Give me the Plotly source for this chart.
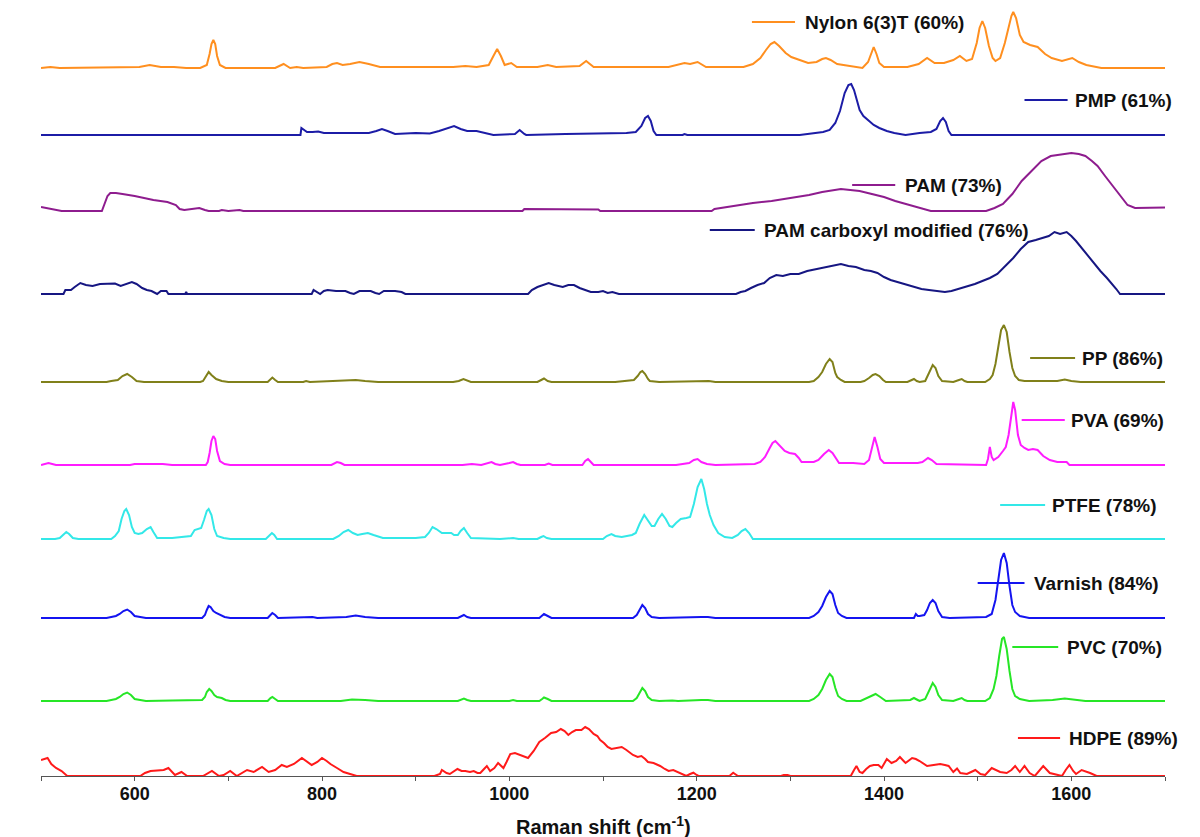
import plotly.graph_objects as go

# ---------------- data: (Raman shift cm-1, relative intensity) ----------------
NYLON = [(500,0),(510,1),(520,0),(579,1),(591,1),(605,1),(616,3),(628,1),(642,1),(655,0),(670,0),(677,3),(680,14),(682,24),(684,28),(686,24),(688,12),(691,3),(697,0),(750,0),(759,4),(766,0),(773,1),(780,0),(805,1),(811,4),(816,5),(822,3),(830,4),(840,6),(850,4),(862,1),(940,1),(953,2),(965,1),(978,3),(983,12),(987,19),(991,12),(995,3),(1002,5),(1008,1),(1030,1),(1041,3),(1050,1),(1075,2),(1082,7),(1090,1),(1170,1),(1182,4),(1187,5),(1193,4),(1201,6),(1210,1),(1250,1),(1260,4),(1268,10),(1274,18),(1279,24),(1283,26),(1288,22),(1295,15),(1301,11),(1310,8),(1319,5),(1328,6),(1334,9),(1338,10),(1343,8),(1350,4),(1358,3),(1368,1),(1377,0),(1383,6),(1386,14),(1389,21),(1392,14),(1395,5),(1400,1),(1425,1),(1437,4),(1446,10),(1454,5),(1464,5),(1474,8),(1481,12),(1488,7),(1494,9),(1499,25),(1502,40),(1505,47),(1508,40),(1512,22),(1516,10),(1519,7),(1524,10),(1529,25),(1533,42),(1536,52),(1538,56),(1541,50),(1545,33),(1549,26),(1556,23),(1564,21),(1572,14),(1579,10),(1590,7),(1601,10),(1608,6),(1616,3),(1632,0),(1700,0)]

PMP = [(500,0),(777,0),(778,7),(781,5),(784,3),(790,3),(796,3.5),(802,2),(815,2),(835,1.5),(850,2),(858,4),(864,6),(870,4),(878,1),(900,2),(915,1.5),(925,4),(934,7),(941,9),(948,6),(955,4),(965,4),(975,2),(983,0),(1006,1),(1011,5),(1016,1),(1018,0),(1060,1),(1100,1.5),(1125,2),(1135,3),(1141,9),(1145,17),(1148,19),(1151,14),(1154,4),(1157,0),(1185,0),(1187,1),(1190,0),(1310,0),(1325,2),(1335,3),(1342,5),(1348,12),(1353,24),(1358,42),(1362,50),(1365,51),(1368,45),(1371,35),(1374,25),(1378,19),(1383,15),(1389,10),(1395,7),(1403,4),(1411,2),(1423,0),(1438,2),(1450,3),(1456,6),(1460,14),(1463,17),(1466,13),(1469,4),(1472,0),(1700,0)]

PAM = [(500,4),(506,3),(512,2),(518,1),(522,0),(565,0),(568,8),(571,15),(574,18),(580,18),(587,17),(600,15),(620,11),(635,9),(644,6),(648,2),(653,1),(660,2),(669,3),(675,1),(679,0),(690,0),(693,1),(700,0),(708,1),(712,1),(716,0),(1014,0),(1016,2),(1050,1.5),(1095,1.5),(1097,0),(1216,0),(1219,2),(1240,5),(1260,8),(1280,10),(1301,13),(1320,16),(1334,19),(1345,21),(1354,22),(1364,21),(1374,20),(1387,17),(1400,14),(1412,10),(1423,7),(1437,3),(1450,0),(1509,0),(1518,3),(1527,7),(1537,17),(1547,30),(1557,40),(1568,50),(1578,55),(1590,57),(1600,58),(1608,57),(1615,55),(1622,50),(1628,45),(1636,35),(1644,25),(1652,15),(1660,6),(1668,3),(1677,3),(1690,3),(1700,3.5)]

PAM_CARBOXYL = [(500,0),(524,0),(526,4),(532,4),(536,7),(542,11),(548,9),(555,8),(563,10),(571,10),(579,10.5),(585,8),(591,10),(597,12),(602,10),(608,6),(613,4),(618,3),(624,0),(628,3),(634,3),(636,0),(654,0),(655,2),(656,0),(789,0),(791,4),(795,2),(798,0),(802,3),(806,4),(815,3),(825,3),(830,1),(834,0),(840,3),(852,3),(857,1),(861,0),(866,3),(878,3),(885,2),(889,0),(1020,0),(1024,4),(1030,7),(1036,9),(1042,11),(1048,9),(1057,7),(1063,9),(1069,9),(1075,6),(1081,4),(1087,2),(1095,2),(1100,3),(1105,1),(1110,2),(1117,0),(1242,0),(1247,2),(1252,3),(1258,6),(1265,9),(1272,11),(1278,16),(1285,19),(1292,18),(1300,20),(1309,20),(1318,23),(1328,25),(1338,27),(1346,28),(1354,30),(1362,28),(1370,27),(1379,24),(1386,23),(1393,21),(1400,17),(1407,14),(1415,12),(1425,9),(1432,7),(1440,5),(1448,4),(1456,3),(1465,2),(1472,3),(1480,5),(1490,8),(1497,10),(1505,13),(1513,16),(1521,20),(1530,28),(1538,36),(1546,45),(1554,52),(1562,54),(1570,56),(1576,58),(1582,62),(1588,60),(1595,62),(1600,58),(1605,53),(1610,47),(1615,41),(1622,33),(1631,23),(1638,16),(1644,10),(1648,5),(1652,0),(1700,0)]

PP = [(500,0),(570,0),(575,1),(582,2),(587,6),(592,8),(597,5),(602,1),(610,0),(670,0),(673,1),(676,6),(679,10),(682,7),(687,3),(693,1),(700,0),(742,0),(745,3),(747,4.5),(750,2),(753,0),(780,0),(783,1),(787,0),(825,1),(836,2),(846,1),(860,0),(940,0),(946,1),(951,3),(956,1),(959,0),(1000,0),(1030,0),(1034,2),(1037,3.5),(1041,1),(1045,0),(1113,0),(1125,1),(1133,2),(1137,6),(1140,10),(1142,11),(1145,8),(1148,3),(1150,1),(1160,0),(1208,1),(1213,1),(1220,0),(1320,0),(1325,1),(1330,5),(1334,10),(1338,18),(1342,23),(1345,20),(1348,9),(1350,5),(1354,2),(1358,0),(1375,0),(1379,1),(1384,4),(1388,7),(1391,8),(1395,6),(1399,2),(1402,0),(1425,0),(1430,2),(1432,3),(1435,1),(1438,0),(1444,1),(1447,7),(1450,14),(1452,17),(1455,14),(1458,6),(1462,1),(1474,0),(1480,2),(1483,3),(1486,1),(1489,0),(1508,0),(1513,3),(1516,7),(1519,18),(1522,35),(1525,52),(1528,57),(1531,50),(1534,30),(1537,14),(1540,6),(1544,2),(1550,1),(1570,1),(1585,1),(1593,2.5),(1600,1),(1610,0),(1700,0)]

PVA = [(500,0),(504,1),(508,2),(512,1),(516,0),(595,0),(600,1),(630,1),(640,0),(676,0),(678,3),(680,12),(682,24),(684,29),(686,26),(688,14),(691,4),(696,1),(702,0),(810,0),(816,3),(820,2),(824,0),(950,0),(960,1),(970,0),(977,2),(981,3),(985,1),(990,0),(1000,2),(1004,3),(1008,1),(1012,0),(1038,0),(1042,1.5),(1046,0),(1078,0),(1081,4),(1084,6),(1087,3),(1090,0),(1178,0),(1187,1),(1192,2),(1197,5),(1201,6),(1205,3),(1211,1),(1220,0),(1262,1),(1268,3),(1273,8),(1278,17),(1281,22),(1284,24),(1287,21),(1290,17),(1294,14),(1299,12),(1305,11),(1309,7),(1312,3),(1325,3),(1330,5),(1336,11),(1341,15),(1345,12),(1349,6),(1352,2),(1367,2),(1379,1),(1384,5),(1387,16),(1390,28),(1393,18),(1396,6),(1400,2),(1436,2),(1441,3),(1447,7),(1451,5),(1456,1),(1509,0),(1511,6),(1513,18),(1515,8),(1517,5),(1522,8),(1527,14),(1530,18),(1533,30),(1536,52),(1538,63),(1540,55),(1543,30),(1546,20),(1550,17),(1554,15),(1559,16),(1564,15),(1570,9),(1577,5),(1585,3),(1595,3),(1598,0),(1700,0)]

PTFE = [(500,0),(515,0),(520,1),(524,5),(527,7),(530,5),(534,1),(540,0),(575,0),(579,3),(583,8),(586,20),(589,28),(591,30),(594,24),(597,12),(600,6),(604,5),(608,6),(613,10),(617,12),(620,7),(624,1),(640,1),(655,2),(660,3),(664,9),(667,10),(671,11),(674,19),(677,28),(679,30),(682,24),(685,10),(688,3),(695,1),(702,0),(740,0),(744,4),(746.5,6),(749,4),(752,0),(812,0),(818,3),(823,7),(828,9),(833,6),(838,4),(843,5),(849,6),(855,4),(865,1),(900,1),(910,2),(914,6),(918,12),(922,10),(928,6),(934,6),(938,6),(941,4),(945,4),(948,8),(951.5,11),(955,6),(959,1),(990,0),(1000,1),(1004,1),(1010,0),(1030,0),(1034,2),(1036.5,3),(1040,1),(1045,0),(1100,0),(1104,3),(1109,5),(1113,3),(1120,2),(1126,3),(1131,4),(1135,6),(1139,15),(1144,24),(1148,18),(1152,13),(1155,13),(1159,20),(1163,25),(1167,20),(1171,13),(1174,12),(1178,16),(1183,20),(1189,21),(1193,22),(1197,35),(1201,52),(1205,60),(1208,50),(1211,35),(1214,24),(1218,14),(1223,6),(1230,2),(1238,1),(1244,4),(1248,8),(1252,10),(1256,6),(1260,0),(1700,0)]

VARNISH = [(500,0),(570,0),(575,1),(580,2),(584,4),(588,7),(592,8.5),(596,6),(600,2),(605,1),(612,0),(672,0),(675,3),(677,8),(679,12),(681,11),(684,7),(687,5),(691,3),(696,1),(702,0),(742,0),(745,3),(747,5),(750,3),(753,0),(790,1),(795,0),(826,1),(836,2.5),(846,1),(860,0),(945,0),(949,2),(951.5,3),(955,1),(959,0),(1032,0),(1035,2),(1037,4),(1041,2),(1045,0),(1132,0),(1136,3),(1139,8),(1142,13),(1145,10),(1148,4),(1152,1),(1160,0),(1205,1),(1212,1),(1220,0),(1320,0),(1325,2),(1330,6),(1334,12),(1338,21),(1342,27),(1345,24),(1348,13),(1351,5),(1355,2),(1360,0),(1432,0),(1434,4),(1436,2),(1438,2),(1443,3),(1446,8),(1449,15),(1452,18),(1455,15),(1458,7),(1462,1),(1470,0),(1509,1),(1515,4),(1519,18),(1522,38),(1525,58),(1528,65),(1531,55),(1534,32),(1537,13),(1540,6),(1545,2),(1555,0),(1700,0)]

PVC = [(500,0),(570,0),(575,1),(580,2),(584,4),(588,7),(592,8.5),(596,6),(600,2),(605,1),(612,0),(640,0.5),(660,0.5),(672,1),(675,4),(677,9),(679.6,12),(682,10),(685,6),(688,4),(693,3),(697,1),(702,0),(742,0),(745,3),(747,4),(750,2),(753,0),(820,0),(826,1),(832,1.5),(846,1),(860,0),(945,0),(949,2),(951.5,2.5),(955,1),(959,0),(1000,0),(1004,1),(1008,0),(1032,0),(1035,2),(1037,3.5),(1041,2),(1045,0),(1132,0),(1136,3),(1139,8),(1142,13),(1145,10),(1148,4),(1152,1),(1160,0),(1174,0.5),(1180,0),(1205,1),(1212,1),(1220,0),(1320,0),(1325,2),(1330,6),(1334,12),(1338,21),(1342,27),(1345,24),(1348,13),(1351,5),(1355,2),(1360,0),(1375,0),(1380,2),(1386,5),(1391,7),(1396,4),(1402,0),(1428,1),(1432,3),(1436,1),(1438,0),(1444,2),(1447,8),(1450,15),(1452,18),(1455,14),(1458,6),(1462,1),(1474,0),(1480,2),(1483,3),(1486,1),(1489,0),(1508,0),(1513,3),(1517,12),(1520,25),(1523,45),(1526,62),(1528,64),(1531,52),(1534,30),(1537,12),(1540,5),(1545,2),(1555,0),(1580,1),(1593,2.5),(1605,1),(1615,0),(1700,0)]

HDPE = [(500,16),(504,17),(507,18),(511,12),(516,8),(522,5),(528,0),(606,0),(611,3),(617,5),(625,5.5),(631,6),(636,8),(643,1),(650,4),(656,0),(673,0),(678,3),(682.5,5),(690,0),(695,1),(702,5),(709,0),(720,6),(727,4),(736,9),(743,4),(750,6),(757,11),(762.5,9),(770,12),(778.5,18),(784,14),(789,11),(795,14),(800,18),(805,15),(809,12),(816,8),(823,4),(830,2),(837,0),(920,0),(926,2),(928,6),(933,3),(936.5,2),(940,4),(944.6,7),(949,5),(953,5),(958,4),(962,5),(966,3),(969,3),(973,7),(976,10),(979.5,5),(984,8),(988,13),(991,10),(993.7,8),(997,14),(1001,22),(1006,23),(1011.5,21),(1016,20),(1020,18),(1026,25),(1032,34),(1038,38),(1044.6,43),(1050,44),(1055,47),(1059,45),(1063,41),(1067,44),(1071,46),(1077,46),(1081,49),(1085,47),(1090,42),(1094,40),(1097,36),(1101,33),(1105,29),(1109,27),(1114,28),(1120,29),(1125,26),(1132,21),(1137,19),(1141,20),(1145,17),(1148,14),(1154,13),(1161,10),(1166,7),(1170,5),(1175,6),(1182,3),(1189,0),(1193,2),(1196.5,3.3),(1200,1),(1202,0),(1235,0),(1239,3.3),(1244,0),(1290,0),(1293,1),(1297,1),(1300,0),(1364.5,0),(1368,6),(1370.6,10),(1374,4),(1377,3),(1381,7),(1385,10),(1389,11),(1394,11),(1397.5,8),(1403,17),(1408,13),(1413,15),(1417,19),(1423,13),(1430,18),(1434,17),(1438,15),(1446,10),(1453,11),(1460,12),(1465,11),(1469,10),(1474,4),(1478,7.5),(1481.5,3),(1488.5,2),(1493,4),(1497.5,6),(1503,2),(1508,1),(1515,8),(1520,6),(1524,4),(1531,3),(1536,6),(1540,10),(1545,4),(1550,10),(1555.5,3),(1561,0),(1566,5),(1570,10),(1577,3),(1584,1),(1590,0),(1594,6),(1598,11),(1602,5),(1605,2),(1611,6),(1615,5),(1620,3),(1627,0),(1700,0)]

SERIES = [NYLON, PMP, PAM, PAM_CARBOXYL, PP, PVA, PTFE, VARNISH, PVC, HDPE]
NAMES = ["Nylon 6(3)T (60%)", "PMP (61%)", "PAM (73%)", "PAM carboxyl modified (76%)",
         "PP (86%)", "PVA (69%)", "PTFE (78%)", "Varnish (84%)", "PVC (70%)", "HDPE (89%)"]
TICK_VALUES = [600, 800, 1000, 1200, 1400, 1600]
TICK_LABELS = ["600", "800", "1000", "1200", "1400", "1600"]
X_TITLE = "Raman shift (cm<sup>-1</sup>)"

# ---------------- styles / layout helpers ----------------
COLORS = ["#FF8F1F", "#1C1CA6", "#8E1C8E", "#161682", "#80801A",
          "#FF1CFF", "#33E8E8", "#1414F0", "#26E626", "#FF1A1A"]
OFFSETS = [708, 641, 565, 482, 394, 311, 237, 158, 75, 0]   # vertical stacking offsets
# label placement: (segment start x, segment end x, text x, y)
LABEL_POS = [(1259, 1305, 1313, 754),
             (1550, 1596, 1602, 676),
             (1366, 1412, 1420, 591),
             (1214, 1262, 1270, 546),
             (1556, 1604, 1609, 418),
             (1547, 1593, 1598, 356),
             (1524, 1572, 1577, 271),
             (1500, 1550, 1558, 193),
             (1537, 1586, 1593, 129),
             (1543, 1588, 1595, 38)]

FONT = "Arial, 'Liberation Sans', sans-serif"

fig = go.Figure()
for data, name, color, off in zip(SERIES, NAMES, COLORS, OFFSETS):
    fig.add_trace(go.Scatter(
        x=[p[0] for p in data], y=[off + p[1] for p in data],
        mode="lines", name=name, line=dict(color=color, width=2),
        showlegend=False, hoverinfo="x+name"))

shapes = []
annotations = []
for name, color, (x0, x1, xt, y) in zip(NAMES, COLORS, LABEL_POS):
    shapes.append(dict(type="line", xref="x", yref="y", x0=x0, x1=x1, y0=y, y1=y,
                       line=dict(color=color, width=2)))
    annotations.append(dict(x=xt, y=y, xref="x", yref="y", text=name, showarrow=False,
                            xanchor="left", yanchor="middle",
                            font=dict(family=FONT, size=19, color="#111", weight="bold")))

# x-axis title as an annotation (placed just above the bottom edge)
annotations.append(dict(x=0.5, y=-0.0645, xref="paper", yref="paper", text=X_TITLE,
                        showarrow=False, xanchor="center", yanchor="middle",
                        font=dict(family=FONT, size=20, color="#111", weight="bold")))

# The page body has an 8px default margin, so the figure is sized 8px smaller
fig.update_layout(
    width=1192, height=829,
    margin=dict(l=33, r=35, t=0, b=61),
    paper_bgcolor="white", plot_bgcolor="white",
    shapes=shapes, annotations=annotations,
    xaxis=dict(range=[500, 1700], tickmode="array", tickvals=TICK_VALUES, ticktext=TICK_LABELS,
               ticks="outside", ticklen=4, tickwidth=1.2, tickcolor="#555",
               ticklabelstandoff=-3,
               minor=dict(tickvals=[500, 700, 900, 1100, 1300, 1500, 1700], ticks="outside",
                          ticklen=4, tickwidth=1.2, tickcolor="#555"),
               showline=True, linecolor="#555", linewidth=1.3,
               showgrid=False, zeroline=False, automargin=False,
               tickfont=dict(family=FONT, size=18, color="#111", weight="bold")),
    yaxis=dict(range=[0, 768], visible=False, showgrid=False, zeroline=False, automargin=False),
)

fig.write_html("out.html")
